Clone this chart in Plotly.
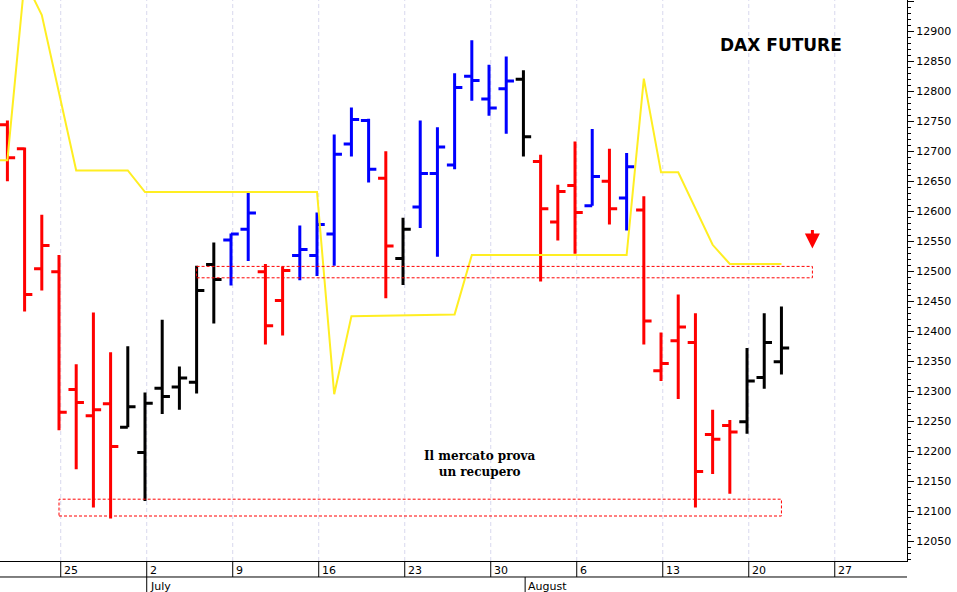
import pandas as pd
import plotly.graph_objects as go

# giorni di borsa (lun-ven) dal 19 giugno al 31 agosto 2018
days = pd.bdate_range('2018-06-19', '2018-08-31')
idx = {d.strftime('%Y-%m-%d'): i - 1 for i, d in enumerate(days)}  # 20 giugno = 0

dates = ['2018-06-20', '2018-06-21', '2018-06-22', '2018-06-25', '2018-06-26', '2018-06-27',
         '2018-06-28', '2018-06-29', '2018-07-02', '2018-07-03', '2018-07-04', '2018-07-05',
         '2018-07-06', '2018-07-09', '2018-07-10', '2018-07-11', '2018-07-12', '2018-07-13',
         '2018-07-16', '2018-07-17', '2018-07-18', '2018-07-19', '2018-07-20', '2018-07-23',
         '2018-07-24', '2018-07-25', '2018-07-26', '2018-07-27', '2018-07-30', '2018-07-31',
         '2018-08-01', '2018-08-02', '2018-08-03', '2018-08-06', '2018-08-07', '2018-08-08',
         '2018-08-09', '2018-08-10', '2018-08-13', '2018-08-14', '2018-08-15', '2018-08-16',
         '2018-08-17', '2018-08-20', '2018-08-21', '2018-08-22']
opens = [12744, 12704, 12504, 12499, 12303, 12259, 12279, 12240, 12198, 12305, 12307, 12315,
         12511, 12552, 12570, 12499, 12451, 12526, 12526, 12562, 12712, 12751, 12655, 12521,
         12607, 12663, 12677, 12825, 12787, 12804, 12820, 12683, 12582, 12643, 12609, 12650,
         12622, 12602, 12334, 12384, 12381, 12228, 12243, 12249, 12323, 12349]
highs = [12751, 12706, 12594, 12527, 12345, 12431, 12365, 12375, 12298, 12419, 12341, 12509,
         12548, 12563, 12631, 12512, 12508, 12576, 12598, 12728, 12773, 12754, 12700, 12589,
         12751, 12740, 12830, 12885, 12844, 12858, 12835, 12694, 12644, 12716, 12737, 12704,
         12697, 12625, 12398, 12461, 12430, 12269, 12252, 12372, 12430, 12441]
lows = [12650, 12433, 12468, 12235, 12170, 12106, 12088, 12240, 12117, 12262, 12269, 12296,
        12413, 12476, 12517, 12378, 12393, 12485, 12492, 12509, 12691, 12648, 12455, 12477,
        12572, 12524, 12670, 12784, 12759, 12729, 12691, 12483, 12551, 12529, 12609, 12578,
        12568, 12378, 12317, 12287, 12106, 12162, 12129, 12229, 12304, 12328]
closes = [12689, 12461, 12543, 12265, 12281, 12269, 12208, 12274, 12280, 12291, 12322, 12468,
          12486, 12562, 12597, 12409, 12501, 12536, 12578, 12695, 12753, 12670, 12542, 12570,
          12663, 12707, 12806, 12818, 12772, 12817, 12724, 12604, 12633, 12598, 12658, 12604,
          12674, 12417, 12346, 12407, 12166, 12220, 12232, 12317, 12381, 12372]
colors = ['red', 'red', 'red', 'red', 'red', 'red', 'red', 'black', 'black', 'black', 'black', 'black',
          'black', 'blue', 'blue', 'red', 'red', 'blue', 'blue', 'blue', 'blue', 'blue', 'red', 'black',
          'blue', 'blue', 'blue', 'blue', 'blue', 'blue', 'black', 'red', 'red', 'red', 'blue', 'red',
          'blue', 'red', 'red', 'red', 'red', 'red', 'red', 'black', 'black', 'black']

line_dates = ['2018-06-19', '2018-06-20', '2018-06-21', '2018-06-22', '2018-06-26', '2018-06-29',
              '2018-07-02', '2018-07-16', '2018-07-17', '2018-07-18', '2018-07-26', '2018-07-27',
              '2018-08-09', '2018-08-10', '2018-08-13', '2018-08-14', '2018-08-16', '2018-08-17',
              '2018-08-22']
line_vals = [12685, 12685, 12985, 12927, 12668, 12668, 12632, 12632, 12295, 12425, 12428, 12527,
             12527, 12821, 12665, 12665, 12544, 12512, 12512]

tick_dates = ['2018-06-25', '2018-07-02', '2018-07-09', '2018-07-16', '2018-07-23', '2018-07-30',
              '2018-08-06', '2018-08-13', '2018-08-20', '2018-08-27']
tick_labels = ['25', '2', '9', '16', '23', '30', '6', '13', '20', '27']
months = [('2018-07-02', 'July'), ('2018-08-01', 'August')]

fig = go.Figure()

fig.add_trace(go.Scatter(x=[idx[d] for d in line_dates], y=line_vals, mode='lines',
                         line=dict(color='#ffee22', width=2), hoverinfo='skip'))

for col in ['red', 'black', 'blue']:
    sel = [i for i, c in enumerate(colors) if c == col]
    fig.add_trace(go.Ohlc(
        x=[idx[dates[i]] for i in sel],
        open=[opens[i] for i in sel], high=[highs[i] for i in sel],
        low=[lows[i] for i in sel], close=[closes[i] for i in sel],
        increasing=dict(line=dict(color=col, width=3)),
        decreasing=dict(line=dict(color=col, width=3)),
        tickwidth=0.45))

# fasce tratteggiate
fig.add_shape(type='rect', x0=11, x1=46.8, y0=12489, y1=12508,
              line=dict(color='red', width=1, dash='3px,2px'))
fig.add_shape(type='rect', x0=3, x1=45, y0=12092, y1=12120,
              line=dict(color='red', width=1, dash='3px,2px'))

# griglia verticale sui lunedì e etichette dei giorni
for d, lab in zip(tick_dates, tick_labels):
    x = idx[d] + 0.1
    fig.add_shape(type='line', x0=x, x1=x, y0=0, y1=1, yref='paper',
                  line=dict(color='#d8d8ee', width=1, dash='4px,3px'), layer='below')
    fig.add_shape(type='line', x0=x, x1=x, y0=0, y1=-0.0285, yref='paper',
                  line=dict(color='black', width=1))
    fig.add_annotation(x=x, y=-0.002, yref='paper', text=lab, showarrow=False,
                       xanchor='left', yanchor='top', xshift=1,
                       font=dict(family='Verdana, DejaVu Sans', size=11, color='black'))
for d, lab in months:
    x = idx[d] + 0.1
    fig.add_shape(type='line', x0=x, x1=x, y0=-0.0285, y1=-0.06, yref='paper',
                  line=dict(color='black', width=1))
    fig.add_annotation(x=x, y=-0.03, yref='paper', text=lab, showarrow=False,
                       xanchor='left', yanchor='top', xshift=1,
                       font=dict(family='Verdana, DejaVu Sans', size=11, color='black'))
fig.add_shape(type='line', x0=-0.43, x1=52.3, y0=-0.0285, y1=-0.0285, yref='paper',
              line=dict(color='black', width=1))

fig.add_annotation(x=46.8, y=12538, ax=0, ay=-20, text='', showarrow=True,
                   arrowhead=2, arrowsize=1, arrowwidth=3, arrowcolor='red')
fig.add_annotation(x=45, y=12877, text='<b>DAX FUTURE</b>', showarrow=False,
                   font=dict(family='Verdana, DejaVu Sans', size=17, color='black'))
fig.add_annotation(x=27.5, y=12178, text='<b>Il mercato prova<br>un recupero</b>', showarrow=False,
                   font=dict(family='DejaVu Serif', size=12, color='black'))

fig.update_layout(
    width=957, height=592, margin=dict(l=0, r=50, t=0, b=31, autoexpand=False),
    paper_bgcolor='white', plot_bgcolor='white', showlegend=False,
    xaxis=dict(range=[-0.43, 52.3], showgrid=False, showticklabels=False, ticks='',
               showline=True, linecolor='black', mirror=True, zeroline=False,
               automargin=False, rangeslider=dict(visible=False)),
    yaxis=dict(range=[12017, 12952], side='right', showgrid=False, zeroline=False,
               dtick=50, tickformat='d', ticks='outside', ticklen=6, tickcolor='black',
               showline=True, linecolor='black', automargin=False,
               minor=dict(dtick=10, ticks='outside', ticklen=3, tickcolor='black'),
               tickfont=dict(family='Verdana, DejaVu Sans', size=11, color='black')),
)

fig.write_html("out.html", config=dict(displayModeBar=False),
               post_script="document.body.style.margin='0';")
